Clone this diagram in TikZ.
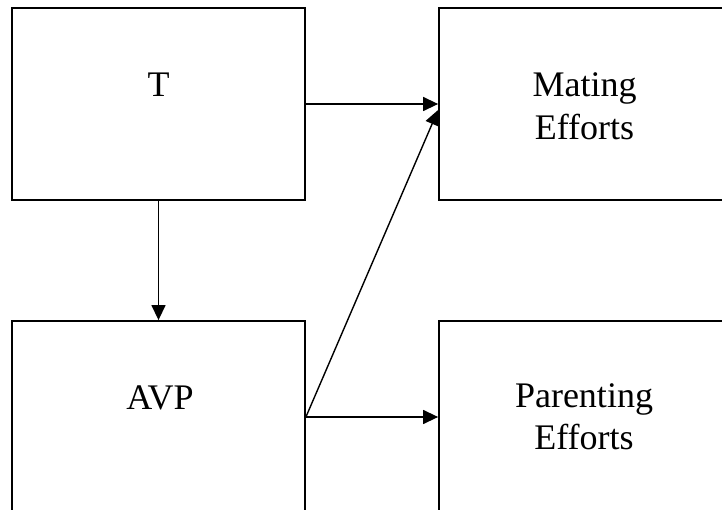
\documentclass[tikz,border=0pt]{standalone}
\usepackage{fontspec}
\setmainfont{Liberation Serif}
\usetikzlibrary{arrows.meta}
\tikzset{
  box/.style={draw, line width=1.8pt, rectangle, minimum width=293pt, minimum height=192pt, inner sep=0pt},
  lbl/.style={font=\fontsize{36}{42}\selectfont, anchor=base, inner sep=0pt},
  arr/.style={line width=1.4pt, -{Triangle[length=15pt,width=14pt]}}
}
\begin{document}
\begin{tikzpicture}[x=1pt,y=-1pt]
\useasboundingbox (0,0) rectangle (722,510);
\clip (0,0) rectangle (722,510);
\fill[white] (0,0) rectangle (722,510);
\node[box] (T) at (158.5,104) {};
\node[box] (M) at (585.5,104) {};
\node[box] (A) at (158.5,417) {};
\node[box] (P) at (585.5,417) {};
\node[lbl] (tT) at (158.5,97) {T};
\node[lbl] (tM1) at (584.5,97) {Mating};
\node[lbl] (tM2) at (584.5,140) {Efforts};
\node[lbl] (tA) at (160,409) {AVP};
\node[lbl] (tP1) at (584,407) {Parenting};
\node[lbl] (tP2) at (584,449) {Efforts};
\draw[arr] (T.east) -- (M.west);
\draw[arr] (T.south) -- (A.north);
\draw[arr] (A.east) -- ([yshift=-6pt]M.west);
\draw[arr] (A.east) -- (P.west);
\end{tikzpicture}
\end{document}
